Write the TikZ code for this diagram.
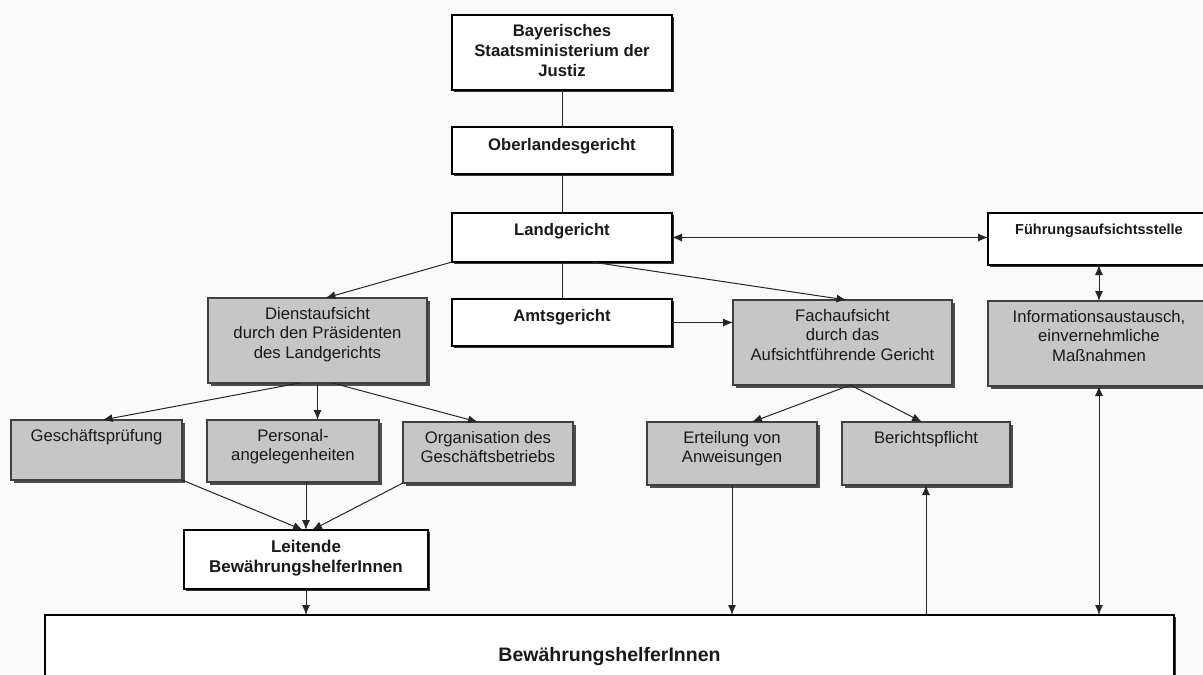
\documentclass[tikz,border=0pt]{standalone}
\usepackage{fontspec}
\setmainfont{Liberation Sans}
\usetikzlibrary{arrows.meta,calc,shadows}
\definecolor{boxgray}{RGB}{198,198,198}
\definecolor{bgcol}{RGB}{250,250,250}
\tikzset{
  base/.style={rectangle, inner sep=0pt, outer sep=0pt},
  sz/.style 2 args={minimum width=#1, minimum height=#2},
  wbox/.style={base, draw=black, line width=2.6pt, fill=white,
    general shadow={fill=black!80, shadow xshift=2pt, shadow yshift=-2pt}},
  gbox/.style={base, draw=black!75, line width=1.2pt, fill=boxgray,
    general shadow={fill=black!70, shadow xshift=3pt, shadow yshift=-3pt}},
  btxt/.style={font=\bfseries\fontsize{16.7}{20}\selectfont, align=center, inner sep=0pt, text=black!90},
  rtxt/.style={font=\fontsize{16.7}{19.5}\selectfont, align=center, inner sep=0pt, text=black!90},
  con/.style={draw=black!85, line width=1pt},
  arr/.style={con, -{Latex[length=10pt,width=8pt]}},
  darr/.style={con, {Latex[length=10pt,width=8pt]}-{Latex[length=10pt,width=8pt]}},
}
\begin{document}
\begin{tikzpicture}[x=1pt,y=-1pt]
\useasboundingbox (0,0) rectangle (1203,675);
\clip (0,0) rectangle (1203,675);
\fill[bgcol] (0,0) rectangle (1203,675);

% boxes
\node[wbox, sz={220pt}{75pt}] (bay) at (562,52.5) {};
\node[wbox, sz={220pt}{47pt}] (ober) at (562,150.5) {};
\node[wbox, sz={220pt}{49pt}] (land) at (562,237.5) {};
\node[wbox, sz={220pt}{47pt}] (amts) at (562,322.5) {};
\node[gbox, sz={219pt}{85pt}] (dienst) at (317.5,340.5) {};
\node[gbox, sz={219pt}{85pt}] (fach) at (842.5,342.5) {};
\node[wbox, sz={222pt}{52pt}] (fuehr) at (1099,239) {};
\node[gbox, sz={222pt}{85pt}] (info) at (1099,343.5) {};
\node[gbox, sz={171pt}{60pt}] (gesch) at (96.5,450) {};
\node[gbox, sz={172pt}{62pt}] (pers) at (293,451) {};
\node[gbox, sz={170pt}{61pt}] (org) at (488,452.5) {};
\node[gbox, sz={170pt}{63pt}] (ert) at (732,453.5) {};
\node[gbox, sz={168pt}{63pt}] (ber) at (926,453.5) {};
\node[wbox, sz={244pt}{59pt}] (leit) at (306,559.5) {};
\node[wbox, sz={1129pt}{80pt}] (bew) at (609.5,655) {};

% texts
\node[btxt] (bay-t) at ($(bay.center)+(0,-2)$) {Bayerisches\\Staatsministerium der\\Justiz};
\node[btxt] (ober-t) at ($(ober.center)+(0,-4)$) {Oberlandesgericht};
\node[btxt] (land-t) at ($(land.center)+(0,-6)$) {Landgericht};
\node[btxt] (amts-t) at ($(amts.center)+(0,-5)$) {Amtsgericht};
\node[btxt, font=\bfseries\fontsize{14.5}{18}\selectfont] (fuehr-t) at ($(fuehr.center)+(0,-8)$) {Führungsaufsichtsstelle};
\node[btxt, font=\bfseries\fontsize{17}{20}\selectfont] (leit-t) at ($(leit.center)+(0,-1)$) {Leitende\\BewährungshelferInnen};
\node[btxt, font=\bfseries\fontsize{19.5}{22}\selectfont] (bew-t) at ($(bew.center)+(0,1)$) {BewährungshelferInnen};

\node[rtxt, anchor=north] (dienst-t) at ($(dienst.north)+(0,9)$) {Dienstaufsicht\\durch den Präsidenten\\des Landgerichts};
\node[rtxt, anchor=north] (fach-t) at ($(fach.north)+(0,9)$) {Fachaufsicht\\durch das\\Aufsichtführende Gericht};
\node[rtxt, anchor=north] (info-t) at ($(info.north)+(0,9)$) {Informationsaustausch,\\einvernehmliche\\Maßnahmen};
\node[rtxt, anchor=north] (gesch-t) at ($(gesch.north)+(0,9)$) {Geschäftsprüfung};
\node[rtxt, anchor=north] (pers-t) at ($(pers.north)+(0,9)$) {Personal-\\angelegenheiten};
\node[rtxt, anchor=north] (org-t) at ($(org.north)+(0,9)$) {Organisation des\\Geschäftsbetriebs};
\node[rtxt, anchor=north] (ert-t) at ($(ert.north)+(0,9)$) {Erteilung von\\Anweisungen};
\node[rtxt, anchor=north] (ber-t) at ($(ber.north)+(0,9)$) {Berichtspflicht};

% connectors
\draw[con] (bay.south) -- (ober.north);
\draw[con] (ober.south) -- (land.north);
\draw[con] (land.south) -- (amts.north);
\draw[darr] (land.east) -- (land.east -| fuehr.west);
\draw[darr] (fuehr.south) -- (info.north);
\draw[arr] (land.south west) -- ($(dienst.north)+(8,0)$);
\draw[arr] ($(land.south)+(30,0)$) -- ($(fach.north)+(4,0)$);
\draw[arr] (amts.east) -- (amts.east -| fach.west);
\draw[arr] ($(dienst.south)+(-18,0)$) -- ($(gesch.north)+(6,0)$);
\draw[arr] (dienst.south) -- (dienst.south |- pers.north);
\draw[arr] ($(dienst.south)+(15,0)$) -- ($(org.north)+(-10,0)$);
\draw[arr] (gesch.south east) -- ($(leit.north)+(-3,0)$);
\draw[arr] (pers.south -| leit.north) -- (leit.north);
\draw[arr] (org.south west) -- ($(leit.north)+(6,0)$);
\draw[arr] (leit.south) -- (leit.south |- bew.north);
\draw[arr] ($(fach.south)+(8,0)$) -- ($(ert.north)+(20,0)$);
\draw[arr] ($(fach.south)+(8,0)$) -- ($(ber.north)+(-4,0)$);
\draw[arr] (ert.south) -- (ert.south |- bew.north);
\draw[arr] (ber.south |- bew.north) -- (ber.south);
\draw[darr] (info.south) -- (info.south |- bew.north);
\end{tikzpicture}
\end{document}
